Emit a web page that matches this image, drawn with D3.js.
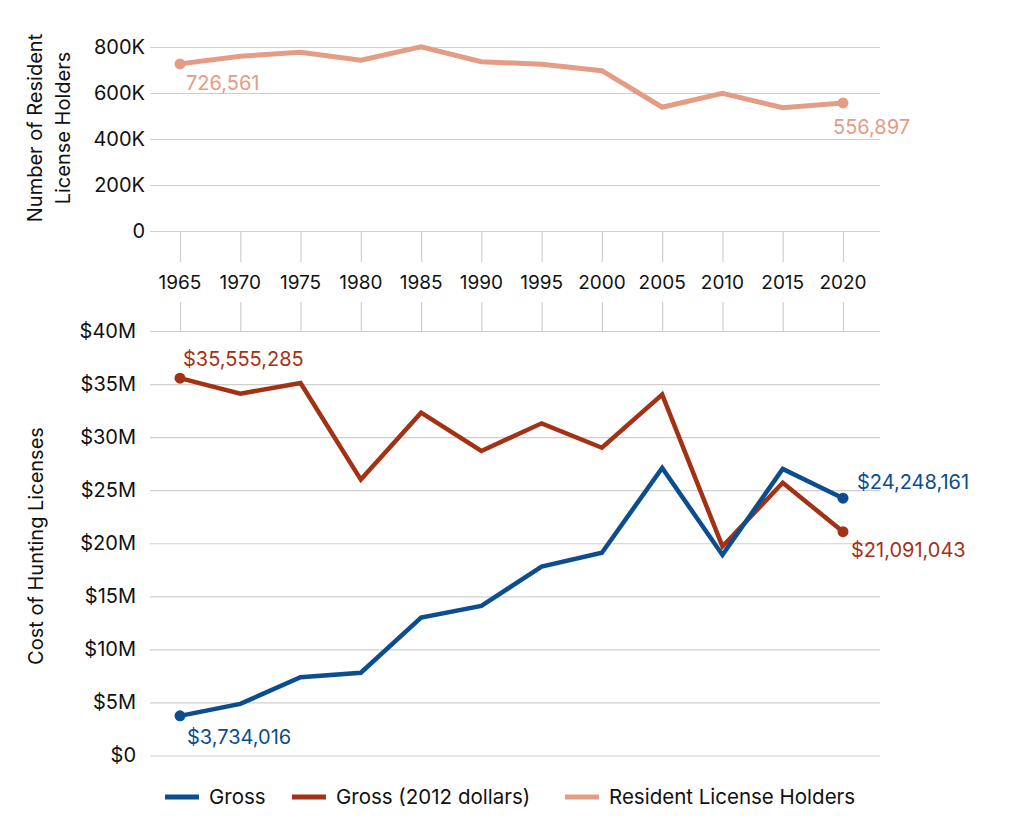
<!DOCTYPE html>
<html><head><meta charset="utf-8">
<script src="https://cdn.jsdelivr.net/npm/d3@7"></script>
<style>
body{margin:0;background:#fff;}
text{font-family:Inter, "Noto Sans", sans-serif;}
</style></head>
<body>
<svg id="chart" width="1020" height="834"></svg>
<script>
const years = [1965,1970,1975,1980,1985,1990,1995,2000,2005,2010,2015,2020];
const residentHolders = [726561,760000,777000,743000,801000,736000,725000,697000,538000,599000,536000,556897];
const gross = [3734016,4860000,7380000,7800000,13000000,14100000,17800000,19100000,27100000,18900000,27000000,24248161];
const gross2012 = [35555285,34100000,35100000,26000000,32300000,28700000,31300000,29000000,34000000,19700000,25700000,21091043];
const topTicks = [0,200000,400000,600000,800000];
const bottomTicks = [0,5e6,10e6,15e6,20e6,25e6,30e6,35e6,40e6];
const legendItems = ["Gross","Gross (2012 dollars)","Resident License Holders"];

const C_GROSS = "#0b4d8e", C_G12 = "#a33215", C_RES = "#e49c85";
const FS = 20;
const svg = d3.select("#chart");

const x = d3.scaleLinear().domain([1965,2020]).range([180,843]);
const yTop = d3.scaleLinear().domain([0,800000]).range([231,47]);
const yBot = d3.scaleLinear().domain([0,40e6]).range([755.5,331]);
const gridL = 150, gridR = 880;

// top grid
const gTop = svg.append("g").attr("transform",`translate(${gridL},0)`)
  .call(d3.axisLeft(yTop).tickValues(topTicks).tickSize(-(gridR-gridL)).tickPadding(5)
     .tickFormat(d => d===0 ? "0" : (d/1000)+"K"));
gTop.select(".domain").remove();
gTop.selectAll(".tick line").attr("stroke","#cfcfcf").attr("stroke-width",1.2);
gTop.selectAll(".tick text").attr("font-size",FS).attr("fill","#111");

// bottom grid
const gBot = svg.append("g").attr("transform",`translate(${gridL},0)`)
  .call(d3.axisLeft(yBot).tickValues(bottomTicks).tickSize(-(gridR-gridL)).tickPadding(6)
     .tickFormat(d => d===0 ? "$0" : "$"+(d/1e6)+"M"));
gBot.select(".domain").remove();
gBot.selectAll(".tick line").attr("stroke","#cfcfcf").attr("stroke-width",1.2);
gBot.selectAll(".tick text").attr("font-size",FS).attr("fill","#111").attr("dx",-8);

// x axis in middle
const gx1 = svg.append("g").attr("transform","translate(0,231)")
  .call(d3.axisBottom(x).tickValues(years).tickSize(31).tickFormat(""));
gx1.select(".domain").remove();
gx1.selectAll(".tick line").attr("stroke","#cfcfcf").attr("stroke-width",1.2);
const gx2 = svg.append("g").attr("transform","translate(0,302)")
  .call(d3.axisBottom(x).tickValues(years).tickSize(29).tickFormat(""));
gx2.select(".domain").remove();
gx2.selectAll(".tick line").attr("stroke","#cfcfcf").attr("stroke-width",1.2);
svg.append("g").selectAll("text").data(years).join("text")
  .attr("x", d => x(d)).attr("y", 289).attr("text-anchor","middle")
  .attr("font-size",19).attr("fill","#111").text(d => d);

// axis titles
svg.append("text").attr("transform","translate(42,128) rotate(-90)").attr("text-anchor","middle")
  .attr("font-size",FS).attr("fill","#111").text("Number of Resident");
svg.append("text").attr("transform","translate(70,128) rotate(-90)").attr("text-anchor","middle")
  .attr("font-size",FS).attr("fill","#111").text("License Holders");
svg.append("text").attr("transform","translate(43,546) rotate(-90)").attr("text-anchor","middle")
  .attr("font-size",FS).attr("fill","#111").text("Cost of Hunting Licenses");

// lines
function drawLine(vals, y, color, w){
  const line = d3.line().x((d,i)=>x(years[i])).y(d=>y(d));
  svg.append("path").datum(vals).attr("d",line).attr("fill","none")
    .attr("stroke",color).attr("stroke-width",w).attr("stroke-linejoin","miter");
  const n = vals.length-1;
  [0,n].forEach(i => svg.append("circle").attr("cx",x(years[i])).attr("cy",y(vals[i]))
    .attr("r",5.5).attr("fill",color));
}
drawLine(residentHolders, yTop, C_RES, 5);
drawLine(gross2012, yBot, C_G12, 4.5);
drawLine(gross, yBot, C_GROSS, 4.5);

const fmt = d3.format(",");
function label(txt, xx, yy, color){
  svg.append("text").attr("x",xx).attr("y",yy).attr("font-size",FS).attr("fill",color).text(txt);
}
label(fmt(residentHolders[0]), x(years[0])+6, yTop(residentHolders[0])+26, C_RES);
label(fmt(residentHolders[11]), x(years[11])-10, yTop(residentHolders[11])+31, C_RES);
label("$"+fmt(gross2012[0]), x(years[0])+3, yBot(gross2012[0])-12, C_G12);
label("$"+fmt(gross[0]), x(years[0])+7, yBot(gross[0])+28, C_GROSS);
label("$"+fmt(gross[11]), x(years[11])+14, yBot(gross[11])-9, C_GROSS);
label("$"+fmt(gross2012[11]), x(years[11])+8, yBot(gross2012[11])+25, C_G12);

// legend
const legColors = [C_GROSS, C_G12, C_RES];
const legX = [165, 292, 565];
const lg = svg.append("g");
legendItems.forEach((t,i)=>{
  lg.append("line").attr("x1",legX[i]).attr("x2",legX[i]+34).attr("y1",797).attr("y2",797)
    .attr("stroke",legColors[i]).attr("stroke-width",5);
  lg.append("text").attr("x",legX[i]+44).attr("y",804).attr("font-size",20.5)
    .attr("fill","#111").text(t);
});
</script>
</body></html>
